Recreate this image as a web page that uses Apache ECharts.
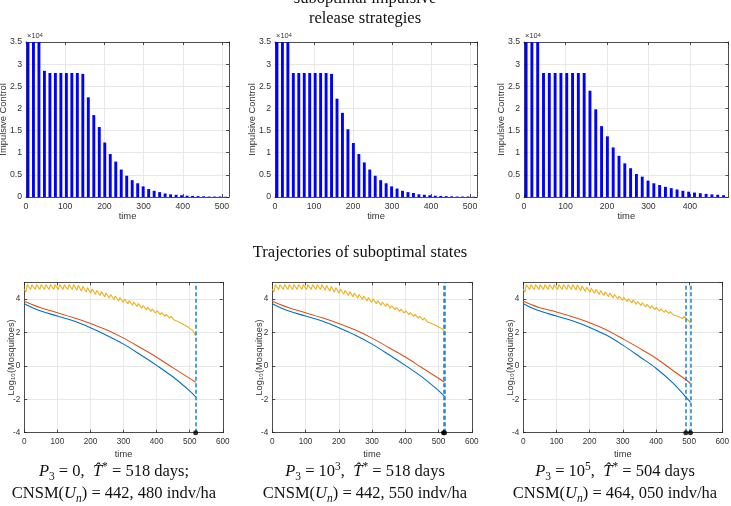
<!DOCTYPE html>
<html>
<head>
<meta charset="utf-8">
<title>suboptimal impulsive release strategies</title>
<script src="https://cdn.jsdelivr.net/npm/echarts@6/dist/echarts.min.js"></script>
<style>
html, body { margin: 0; padding: 0; background: #fff; }
#main { width: 731px; height: 506px; }
</style>
</head>
<body>
<div id="main"></div>
<script>
// release days (every 14 days)
var releaseDays = [5, 19, 33, 47, 61, 75, 89, 103, 117, 131, 145, 159, 173, 187, 201, 215, 229, 243, 257,
  271, 285, 299, 313, 327, 341, 355, 369, 383, 397, 411, 425, 439, 453, 467, 481, 495, 509];

// impulsive control, x 10^4 (first three bars go past the top of the axis)
var control1 = [3.6, 3.6, 3.6, 2.85, 2.8, 2.8, 2.8, 2.8, 2.8, 2.8, 2.78, 2.25, 1.85, 1.58, 1.23, 0.97, 0.8, 0.62,
  0.48, 0.38, 0.31, 0.24, 0.18, 0.14, 0.11, 0.08, 0.06, 0.05, 0.04, 0.03, 0.025, 0.02, 0.015, 0.01, 0.01, 0.01, 0.005];
var control2 = [3.6, 3.6, 3.6, 2.8, 2.8, 2.8, 2.8, 2.8, 2.8, 2.8, 2.78, 2.22, 1.9, 1.53, 1.22, 0.97, 0.78, 0.62,
  0.48, 0.38, 0.31, 0.24, 0.19, 0.14, 0.11, 0.09, 0.06, 0.05, 0.04, 0.03, 0.025, 0.02, 0.015, 0.01, 0.01, 0.01, 0.005];
var control3 = [3.6, 3.6, 3.6, 2.8, 2.8, 2.8, 2.8, 2.8, 2.8, 2.8, 2.8, 2.4, 1.98, 1.6, 1.37, 1.12, 0.93, 0.76,
  0.65, 0.52, 0.46, 0.37, 0.31, 0.27, 0.23, 0.2, 0.17, 0.14, 0.12, 0.1, 0.085, 0.07, 0.06, 0.05, 0.04];

// smooth states (log10)
var stateDays1 = [0, 25, 50, 100, 150, 200, 250, 300, 350, 400, 450, 500, 518];
var blue1 = [3.72, 3.48, 3.28, 2.98, 2.68, 2.28, 1.82, 1.3, 0.68, 0.03, -0.67, -1.5, -1.85];
var orange1 = [3.86, 3.66, 3.48, 3.18, 2.88, 2.54, 2.14, 1.66, 1.1, 0.52, -0.12, -0.75, -0.98];
var stateDays2 = [0, 25, 50, 100, 150, 200, 250, 300, 350, 400, 450, 500, 518];
var blue2 = [3.72, 3.48, 3.28, 2.98, 2.68, 2.28, 1.83, 1.3, 0.68, 0.03, -0.66, -1.48, -1.82];
var orange2 = [3.86, 3.66, 3.48, 3.18, 2.88, 2.54, 2.14, 1.66, 1.1, 0.53, -0.11, -0.74, -0.98];
var stateDays3 = [0, 25, 50, 100, 150, 200, 250, 300, 350, 400, 450, 500, 504];
var blue3 = [3.72, 3.48, 3.28, 2.98, 2.68, 2.3, 1.84, 1.24, 0.56, -0.14, -1.0, -2.08, -2.18];
var orange3 = [3.86, 3.66, 3.48, 3.22, 2.92, 2.58, 2.16, 1.62, 1.06, 0.46, -0.26, -0.98, -1.06];

// released state (yellow): value just before and just after each release
var yellowStart = [4.58, 4.58, 4.58];
var yellowEnd = [1.8, 2.08, 2.58];
var trough1 = [4.42, 4.57, 4.57, 4.57, 4.57, 4.57, 4.57, 4.57, 4.57, 4.57, 4.57, 4.52, 4.47, 4.41, 4.35, 4.28, 4.21, 4.13,
  4.05, 3.97, 3.88, 3.8, 3.72, 3.63, 3.55, 3.44, 3.35, 3.26, 3.16, 3.06, 2.96, 2.85, 2.74, 2.62, 2.48, 2.32, 2.12];
var peak1 = [4.86, 4.86, 4.86, 4.86, 4.86, 4.86, 4.86, 4.86, 4.86, 4.86, 4.86, 4.82, 4.76, 4.68, 4.6, 4.52, 4.44, 4.36,
  4.27, 4.18, 4.09, 4.0, 3.91, 3.82, 3.73, 3.6, 3.5, 3.4, 3.3, 3.19, 3.08, 2.97, 2.85, 2.72, 2.57, 2.4, 2.18];
var trough2 = [4.42, 4.57, 4.57, 4.57, 4.57, 4.57, 4.57, 4.57, 4.57, 4.57, 4.57, 4.52, 4.47, 4.41, 4.35, 4.28, 4.21, 4.13,
  4.05, 3.97, 3.88, 3.8, 3.72, 3.63, 3.55, 3.44, 3.35, 3.26, 3.16, 3.06, 2.96, 2.85, 2.74, 2.63, 2.52, 2.39, 2.24];
var peak2 = [4.86, 4.86, 4.86, 4.86, 4.86, 4.86, 4.86, 4.86, 4.86, 4.86, 4.86, 4.82, 4.76, 4.68, 4.6, 4.52, 4.44, 4.36,
  4.27, 4.18, 4.09, 4.0, 3.91, 3.82, 3.73, 3.6, 3.5, 3.4, 3.3, 3.19, 3.08, 2.97, 2.86, 2.74, 2.62, 2.48, 2.3];
var trough3 = [4.42, 4.57, 4.57, 4.57, 4.57, 4.57, 4.57, 4.57, 4.57, 4.57, 4.57, 4.54, 4.5, 4.45, 4.4, 4.34, 4.28, 4.21,
  4.14, 4.07, 4.0, 3.92, 3.84, 3.76, 3.68, 3.6, 3.52, 3.44, 3.36, 3.28, 3.2, 3.12, 3.04, 2.95, 2.84];
var peak3 = [4.86, 4.86, 4.86, 4.86, 4.86, 4.86, 4.86, 4.86, 4.86, 4.86, 4.86, 4.84, 4.78, 4.71, 4.64, 4.57, 4.5, 4.42,
  4.35, 4.27, 4.18, 4.1, 4.02, 3.94, 3.85, 3.77, 3.68, 3.6, 3.5, 3.42, 3.33, 3.24, 3.15, 3.06, 2.96];

// final times (T*) marked with dashed lines
var horizon = [518, 518, 504];
var stopDays = [[518], [515, 518], [490, 504]];

var controlAxisMax = [518, 518, 493];
var xTicksTop = [0, 500, 100];
var xTicksBottom = [0, 600, 100];
var yTicksTop = [0, 3.5, 0.5];
var yTicksBottom = [-4, 5, 2];

var captions = [
  ['{i|P}{sub|3}{r| = 0,  }{i|T\u0302}{sup|*}{r| = 518 days;}', '{r|CNSM(}{i|U}{subi|n}{r|) = 442, 480 indv/ha}'],
  ['{i|P}{sub|3}{r| = 10}{sup|3}{r|,  }{i|T\u0302}{sup|*}{r| = 518 days}', '{r|CNSM(}{i|U}{subi|n}{r|) = 442, 550 indv/ha}'],
  ['{i|P}{sub|3}{r| = 10}{sup|5}{r|,  }{i|T\u0302}{sup|*}{r| = 504 days}', '{r|CNSM(}{i|U}{subi|n}{r|) = 464, 050 indv/ha}']
];

var controls = [control1, control2, control3];
var stateDays = [stateDays1, stateDays2, stateDays3];
var blues = [blue1, blue2, blue3];
var oranges = [orange1, orange2, orange3];
var troughs = [trough1, trough2, trough3];
var peaks = [peak1, peak2, peak3];

var topBoxes = [[26, 42, 203, 155], [275, 42, 202, 155], [524, 42, 204.5, 155]];
var bottomBoxes = [[24.3, 282.3, 198.5, 150.4], [272.3, 282.3, 199.5, 150.4], [523.3, 282.3, 199, 150.4]];
var captionX = [114, 365, 615];

var sans = 'Liberation Sans, Arial, Helvetica, sans-serif';
var serif = 'Liberation Serif, Times New Roman, serif';
var axisColor = '#262626';
var gridColor = '#e2e2e2';
var labelColor = '#333';

var grids = [], xAxes = [], yAxes = [], series = [], graphics = [];

function addPanel(box, xr, yr, xName, yName, o) {
  var g = grids.length;
  grids.push({ left: box[0], top: box[1], width: box[2], height: box[3], show: false,
    containLabel: false, outerBoundsMode: 'none' });
  var tick = { inside: true, length: 3, lineStyle: { color: axisColor, width: 0.8 } };
  var line = { show: true, onZero: false, lineStyle: { color: axisColor, width: 0.8 } };
  xAxes.push({
    gridIndex: g, type: 'value', min: xr[0], max: xr[1], interval: xr[2],
    name: xName, nameLocation: 'middle', nameGap: o.xGap, nameMoveOverlap: false,
    nameTextStyle: { fontFamily: sans, fontSize: o.nameSize, color: labelColor },
    axisLine: line, axisTick: tick,
    axisLabel: { fontFamily: sans, fontSize: o.tickSize, color: labelColor, margin: 5,
      showMinLabel: true, showMaxLabel: Math.abs((xr[1] - xr[0]) % xr[2]) < 1e-9 },
    splitLine: { show: true, lineStyle: { color: gridColor, width: 0.8 } }
  });
  xAxes.push({
    gridIndex: g, type: 'value', position: 'top', min: xr[0], max: xr[1], interval: xr[2],
    axisLine: line, axisTick: tick, axisLabel: { show: false }, splitLine: { show: false }
  });
  yAxes.push({
    gridIndex: g, type: 'value', min: yr[0], max: yr[1], interval: yr[2],
    name: yName, nameLocation: 'middle', nameRotate: 90, nameGap: o.yGap, nameMoveOverlap: false,
    nameTextStyle: { fontFamily: sans, fontSize: o.nameSize, color: labelColor },
    axisLine: line, axisTick: tick,
    axisLabel: { fontFamily: sans, fontSize: o.tickSize, color: labelColor, margin: 4,
      showMaxLabel: Math.abs((yr[1] - yr[0]) % yr[2]) < 1e-9 },
    splitLine: { show: true, lineStyle: { color: gridColor, width: 0.8 } }
  });
  yAxes.push({
    gridIndex: g, type: 'value', position: 'right', min: yr[0], max: yr[1], interval: yr[2],
    axisLine: line, axisTick: tick, axisLabel: { show: false }, splitLine: { show: false }
  });
  return g;
}

// top row: impulsive control bars
for (var p = 0; p < 3; p++) {
  var g = addPanel(topBoxes[p], [xTicksTop[0], controlAxisMax[p], xTicksTop[2]], yTicksTop,
    'time', 'Impulsive Control', { xGap: 15, yGap: 18, nameSize: 9.4, tickSize: 8.7 });
  var vals = controls[p];
  series.push({
    type: 'bar', xAxisIndex: 2 * g, yAxisIndex: 2 * g, barWidth: 2.9, clip: true,
    itemStyle: { color: '#0000ff' },
    data: vals.map(function (v, i) { return [releaseDays[i], v]; })
  });
  graphics.push({
    type: 'text', left: topBoxes[p][0] + 1, top: 32,
    style: { text: '\u00d710{s|4}', fontFamily: sans, fontSize: 7.5, fill: labelColor,
      rich: { s: { fontSize: 5.5, verticalAlign: 'top', lineHeight: 6, fill: labelColor } } }
  });
}

// bottom row: states
for (var q = 0; q < 3; q++) {
  var gb = addPanel(bottomBoxes[q], xTicksBottom, yTicksBottom,
    'time', 'Log\u2081\u2080(Mosquitoes)', { xGap: 17, yGap: 8, nameSize: 9.3, tickSize: 8.2 });
  var days = stateDays[q];
  series.push({
    type: 'line', xAxisIndex: 2 * gb, yAxisIndex: 2 * gb, showSymbol: false, smooth: 0.35,
    lineStyle: { color: '#0072BD', width: 1.1 }, itemStyle: { color: '#0072BD' },
    data: blues[q].map(function (v, i) { return [days[i], v]; }),
    markLine: {
      silent: true, symbol: ['none', 'none'], label: { show: false },
      lineStyle: { type: [4, 2.5], color: '#1f80c8', width: 1.5 },
      data: stopDays[q].map(function (d) { return { xAxis: d }; })
    }
  });
  series.push({
    type: 'line', xAxisIndex: 2 * gb, yAxisIndex: 2 * gb, showSymbol: false, smooth: 0.35,
    lineStyle: { color: '#D95319', width: 1.1 }, itemStyle: { color: '#D95319' },
    data: oranges[q].map(function (v, i) { return [days[i], v]; })
  });
  // sawtooth: trough just before each release, peak a few days after
  var yel = [[0, yellowStart[q]]];
  for (var k = 0; k < troughs[q].length; k++) {
    yel.push([releaseDays[k], troughs[q][k]]);
    yel.push([releaseDays[k] + 4, peaks[q][k]]);
  }
  yel.push([horizon[q], yellowEnd[q]]);
  series.push({
    type: 'line', xAxisIndex: 2 * gb, yAxisIndex: 2 * gb, showSymbol: false,
    lineStyle: { color: '#EDB120', width: 1.1 }, itemStyle: { color: '#EDB120' },
    data: yel
  });
  series.push({
    type: 'scatter', xAxisIndex: 2 * gb, yAxisIndex: 2 * gb, clip: false, z: 5,
    symbolSize: 5, itemStyle: { color: '#000' },
    data: stopDays[q].map(function (d) { return [d, yTicksBottom[0]]; })
  });

  var rich = {
    r: { fontFamily: serif, fontSize: 16.5, fill: '#111', lineHeight: 22 },
    i: { fontFamily: serif, fontStyle: 'italic', fontSize: 16.5, fill: '#111', lineHeight: 22 },
    sub: { fontFamily: serif, fontSize: 11.5, fill: '#111', verticalAlign: 'bottom', lineHeight: 10 },
    subi: { fontFamily: serif, fontStyle: 'italic', fontSize: 11.5, fill: '#111', verticalAlign: 'bottom', lineHeight: 10 },
    sup: { fontFamily: serif, fontSize: 11.5, fill: '#111', verticalAlign: 'top', lineHeight: 13 }
  };
  graphics.push({
    type: 'text', x: captionX[q], y: 472,
    style: { text: captions[q][0], align: 'center', verticalAlign: 'middle', rich: rich }
  });
  graphics.push({
    type: 'text', x: captionX[q], y: 494,
    style: { text: captions[q][1], align: 'center', verticalAlign: 'middle', rich: rich }
  });
}

var titleStyle = { fontFamily: serif, fontSize: 16.5, fill: '#111', align: 'center', verticalAlign: 'middle' };
graphics.push({ type: 'text', x: 365, y: -1, style: Object.assign({ text: 'suboptimal impulsive' }, titleStyle) });
graphics.push({ type: 'text', x: 365, y: 19, style: Object.assign({ text: 'release strategies' }, titleStyle) });
graphics.push({ type: 'text', x: 360, y: 253, style: Object.assign({ text: 'Trajectories of suboptimal states' }, titleStyle) });

var chart = echarts.init(document.getElementById('main'));
chart.setOption({
  animation: false,
  backgroundColor: '#fff',
  grid: grids,
  xAxis: xAxes,
  yAxis: yAxes,
  series: series,
  graphic: graphics
});
</script>
</body>
</html>
